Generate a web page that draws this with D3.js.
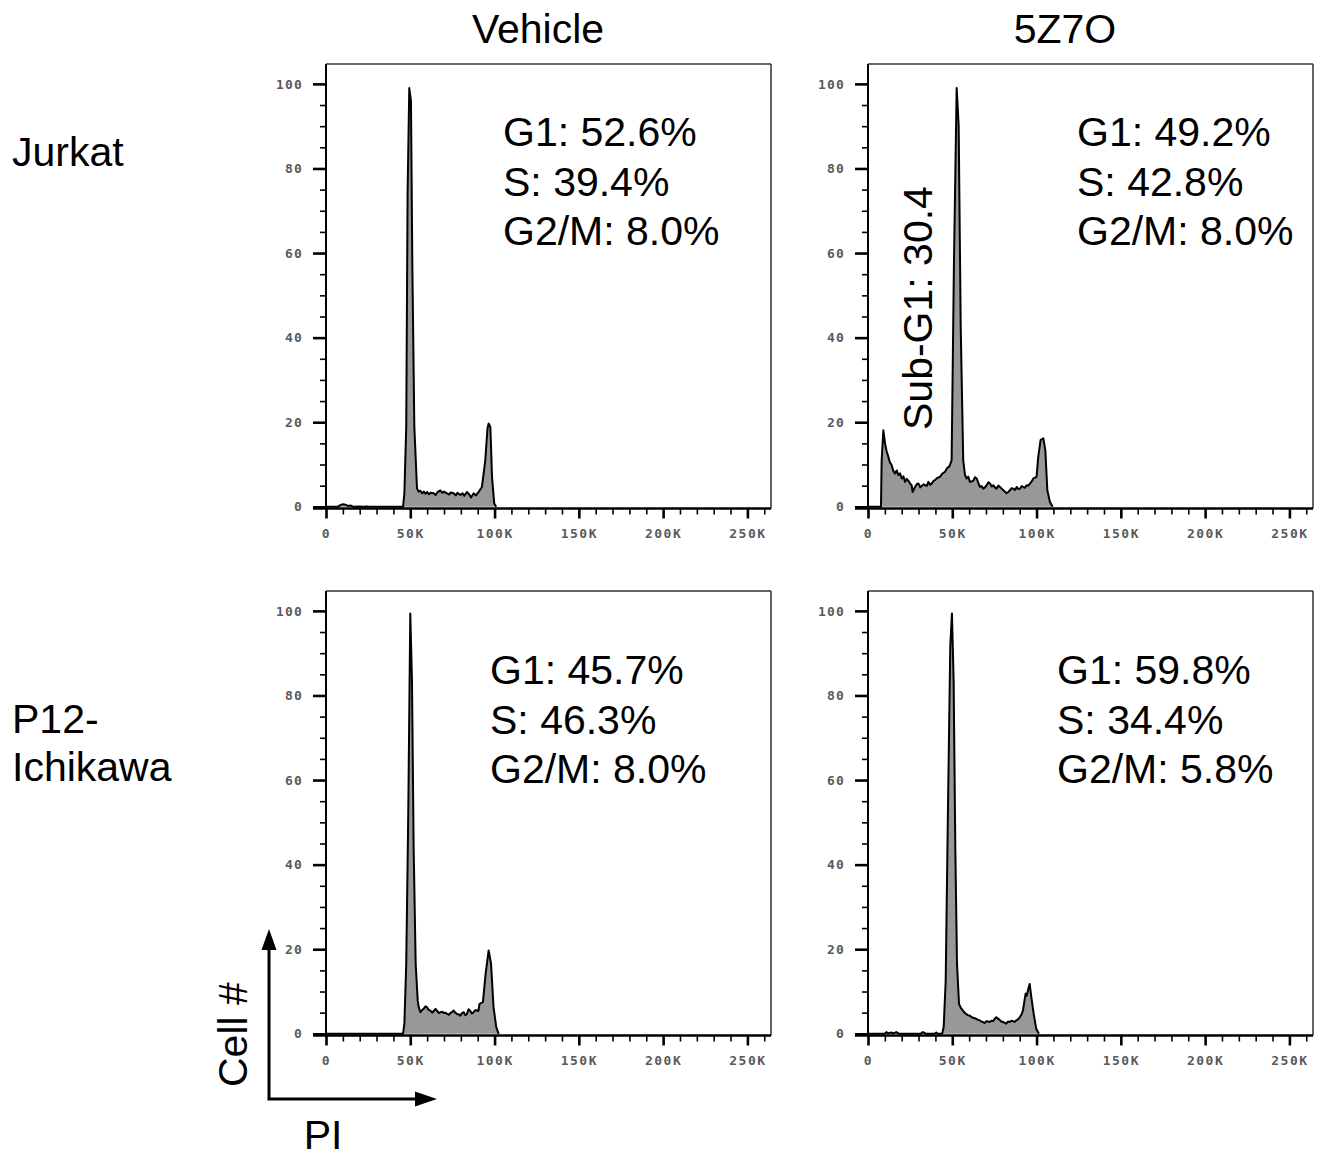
<!DOCTYPE html>
<html>
<head>
<meta charset="utf-8">
<script src="https://cdn.jsdelivr.net/npm/d3@7"></script>
<style>
  body { margin: 0; background: #fff; }
  svg { display: block; }
</style>
</head>
<body>
<div id="chart"></div>
<script>
// PI in thousands (K), cell count (% of max)
const jurkatVehicle = [
  [0,0],[7,0],[8.5,0.4],[10,0.6],[11.5,0.5],[13,0.2],[14.5,0.3],[16.4,0],[20,0.1],[22,0],[24,0.1],[26,0],
  [45.7,0],[46.5,3.2],[47.6,18.9],[48.4,74],[49.4,99],[50.4,96],[51.2,58],[52.4,19],[54,4.3],[55,3.6],
  [56,3.8],[57,3.2],[58,3.6],[59,3.1],[60,3.5],[61,3.0],[62,3.3],[63.9,3.2],[65,2.8],[66,3.4],[67.8,3.9],
  [69,3.3],[70,3.6],[71.8,3.2],[73,2.9],[74,3.4],[75.7,3.2],[77,2.7],[78,3.3],[79.7,2.8],[81,3.2],[82,2.6],
  [83.6,3.5],[85,2.9],[86,2.2],[87.6,3.2],[89,2.7],[90.5,3.5],[92.5,4.7],[94.5,11],[95.8,18.5],[96.5,19.7],
  [97.5,18.9],[98.5,7],[99.8,0.8],[101,0]
];
const jurkat5Z7O = [
  [0,0],[7.1,0],[7.7,0],[8.1,11],[9.1,18.1],[10.1,15],[11,13.2],[12.1,11.8],[13,10.5],[14,9.9],[15,8.5],
  [16,7.9],[17,8.6],[18,7.5],[19,7.9],[20,6.7],[21,7.2],[22,5.9],[23,6.6],[23.9,6.2],[25,5.5],[25.9,5.1],
  [26.5,3.5],[27.9,4.7],[29,5.4],[29.9,5.5],[31,4.6],[31.8,4.9],[33,5.3],[33.8,5.1],[35,5.0],[35.8,5.9],
  [37,5.2],[37.8,5.5],[39,6.2],[39.7,6.3],[41,6.8],[42.7,7.1],[44,7.8],[45.7,8.3],[47,9.2],[48.2,9.5],
  [49.6,11],[51,58],[52.6,99],[53.8,90],[55,42.6],[56.5,11],[57.5,7.6],[58.5,6.7],[59.5,7.1],[60.5,5.9],
  [61.5,6.0],[62.5,6.2],[63.5,7.0],[64.5,6.7],[65.5,5.6],[66.4,4.7],[67.4,4.9],[68.4,4.3],[69.4,4.6],
  [70.4,5.1],[71.4,5.8],[72.4,5.5],[73.4,4.8],[74.3,5.1],[75.3,4.6],[76.3,4.3],[77.3,5.0],[78.3,4.7],
  [79.3,4.3],[80.3,3.9],[81.2,3.6],[82.2,3.2],[83.2,3.5],[84.2,3.9],[85.2,4.4],[86.2,4.3],[87.2,4.0],
  [88.2,4.7],[89.2,4.2],[90.2,4.3],[91.2,4.9],[92.1,4.7],[93.1,4.5],[94.1,5.1],[95.1,5.0],[96.1,5.5],
  [97.1,6.0],[98.1,6.7],[99.1,6.9],[100,7.1],[101,11.8],[102.4,15.8],[104,16.2],[105.2,13.4],[106.4,3.9],
  [107.9,1.2],[109.5,0]
];
const p12Vehicle = [
  [0,0],[45.7,0],[46.5,2.4],[47.6,16.6],[48.8,52],[50,99.4],[51,83.6],[52,44],[53.2,16.6],[54.4,7.9],
  [55,6.3],[56,5.1],[57,5.6],[57.9,5.9],[59,6.5],[59.9,6.3],[61,5.6],[61.9,5.5],[63,5.0],[63.9,5.4],
  [65,5.9],[65.8,5.5],[67,4.9],[67.8,5.1],[69,5.2],[69.8,4.9],[71,5.0],[71.8,4.7],[73,4.5],[73.7,4.9],
  [74.7,5.1],[75.7,5.5],[76.7,5.0],[77.7,4.7],[78.7,4.6],[79.7,4.3],[80.7,4.9],[81.7,5.1],[82.7,4.4],
  [83.6,4.7],[84.6,5.8],[85.6,5.4],[86.6,4.8],[87.6,5.1],[88.6,5.6],[89.6,5.5],[90.4,5.4],[91.1,7.1],
  [93.1,7.5],[94.7,14.2],[96.5,19.7],[97.9,16.6],[99.4,6.3],[101,1.6],[102.4,0]
];
const p125Z7O = [
  [0,0],[9.9,0],[10.9,0.4],[12,0.1],[13.8,0.3],[15,0.1],[16.8,0.4],[18,0.1],[20.8,0],[31,0],[32.6,0.4],
  [34.6,0],[39.5,0],[40.5,0.3],[41.5,0],[44,0],[44.9,1.6],[46.1,12.6],[47.4,52],[48.8,91.5],[49.8,99.4],
  [50.8,83.6],[51.8,44],[52.8,16.6],[54,7.1],[55,6.2],[56.3,5.5],[57.3,5.0],[58.3,4.7],[59.3,4.4],
  [60.3,4.3],[61.3,4.0],[62.3,3.8],[63.3,3.7],[64.3,3.5],[65.3,3.3],[66.2,3.2],[67.2,2.9],[68.2,2.8],
  [69.2,2.5],[70.2,3.0],[71.2,2.9],[72.2,2.8],[73.2,3.1],[74.1,3.0],[75.1,3.5],[76.1,3.9],[77.1,3.6],
  [78.1,3.3],[79.1,2.9],[80.1,2.8],[81.1,2.6],[82,2.4],[83,2.9],[84,2.8],[85,3.1],[86,3.0],[87,2.8],
  [88,3.2],[89,3.4],[90,3.9],[91,4.5],[91.9,5.5],[92.7,7.5],[93.5,9.5],[94.2,9.0],[94.9,10.3],[95.5,11.2],
  [95.9,11.8],[96.4,10.2],[96.9,8.7],[98.3,4.7],[99.8,1.2],[101.4,0]
];

const columnTitles = ["Vehicle", "5Z7O"];
const rowTitles = [["Jurkat"], ["P12-", "Ichikawa"]];
const statsJurkatVehicle = ["G1: 52.6%", "S: 39.4%", "G2/M: 8.0%"];
const statsJurkat5Z7O = ["G1: 49.2%", "S: 42.8%", "G2/M: 8.0%"];
const statsP12Vehicle = ["G1: 45.7%", "S: 46.3%", "G2/M: 8.0%"];
const statsP125Z7O = ["G1: 59.8%", "S: 34.4%", "G2/M: 5.8%"];
const subG1Label = "Sub-G1: 30.4";
const xTicks = [0, 50, 100, 150, 200, 250];
const xMinor = d3.range(0, 261, 10).filter(d => d % 50 !== 0);
const yTicks = [0, 20, 40, 60, 80, 100];
const yMinor = d3.range(0, 101, 5).filter(d => d % 20 !== 0);

const W = 1323, H = 1153;
const bigFont = "'Liberation Sans', Arial, Helvetica, sans-serif";
const tickFont = "'DejaVu Sans Mono', monospace";

const svg = d3.select("#chart").append("svg")
  .attr("width", W)
  .attr("height", H)
  .style("background", "#fff");

const pw = 445, ph = 444.5;
const x = d3.scaleLinear().domain([0, 264]).range([0, pw]);
const y = d3.scaleLinear().domain([-0.4, 104.7]).range([ph, 0]);

const panels = [
  { data: jurkatVehicle, stats: statsJurkatVehicle, left: 326, top: 64, sx: 177, sy: 82 },
  { data: jurkat5Z7O, stats: statsJurkat5Z7O, left: 868, top: 64, sx: 209, sy: 82, sub: true },
  { data: p12Vehicle, stats: statsP12Vehicle, left: 326, top: 591, sx: 164, sy: 93 },
  { data: p125Z7O, stats: statsP125Z7O, left: 868, top: 591, sx: 189, sy: 93 }
];

const area = d3.area()
  .x(d => x(d[0]))
  .y0(y(0))
  .y1(d => y(d[1]));

const line = d3.line()
  .x(d => x(d[0]))
  .y(d => y(d[1]));

panels.forEach(function(p) {
  const g = svg.append("g").attr("transform", "translate(" + p.left + "," + p.top + ")");

  // frame
  g.append("line").attr("x1", 0).attr("x2", pw).attr("y1", 0).attr("y2", 0)
    .attr("stroke", "#333").attr("stroke-width", 1.5);
  g.append("line").attr("x1", pw).attr("x2", pw).attr("y1", 0).attr("y2", ph)
    .attr("stroke", "#333").attr("stroke-width", 1.5);

  // histogram
  g.append("path").datum(p.data)
    .attr("d", area)
    .attr("fill", "#989898");
  g.append("path").datum(p.data)
    .attr("d", line)
    .attr("fill", "none")
    .attr("stroke", "#000")
    .attr("stroke-width", 2)
    .attr("stroke-linejoin", "round");

  // y axis
  const ya = g.append("g")
    .call(d3.axisLeft(y).tickValues(yTicks).tickSize(13).tickPadding(10));
  ya.select(".domain").attr("stroke-width", 2).attr("d", "M0," + ph + "V0");
  ya.selectAll(".tick line").attr("stroke-width", 2.6);
  ya.selectAll("text")
    .attr("font-family", tickFont).attr("font-size", 13).attr("font-weight", "bold")
    .attr("letter-spacing", 1.2).attr("fill", "#5a5a5a");
  g.append("g")
    .call(d3.axisLeft(y).tickValues(yMinor).tickSize(6).tickFormat(""))
    .call(s => s.select(".domain").remove())
    .selectAll(".tick line").attr("stroke-width", 1.6);

  // x axis
  const xa = g.append("g").attr("transform", "translate(0," + ph + ")")
    .call(d3.axisBottom(x).tickValues(xTicks).tickSize(10).tickPadding(10)
      .tickFormat(d => d === 0 ? "0" : d + "K"));
  xa.select(".domain").attr("stroke-width", 2.5).attr("d", "M-13,0H" + pw);
  xa.selectAll(".tick line").attr("stroke-width", 2.6);
  xa.selectAll("text")
    .attr("font-family", tickFont).attr("font-size", 13).attr("font-weight", "bold")
    .attr("letter-spacing", 1.5).attr("fill", "#5a5a5a");
  g.append("g").attr("transform", "translate(0," + ph + ")")
    .call(d3.axisBottom(x).tickValues(xMinor).tickSize(6).tickFormat(""))
    .call(s => s.select(".domain").remove())
    .selectAll(".tick line").attr("stroke-width", 1.6);

  // phase percentages
  const st = g.append("text")
    .attr("font-family", bigFont).attr("font-size", 41).attr("fill", "#000");
  st.selectAll("tspan").data(p.stats).enter().append("tspan")
    .attr("x", p.sx)
    .attr("y", (d, i) => p.sy + i * 49.5)
    .text(d => d);

  if (p.sub) {
    g.append("text")
      .attr("transform", "translate(64,366) rotate(-90)")
      .attr("font-family", bigFont).attr("font-size", 41)
      .text(subG1Label);
  }
});

// column titles
svg.selectAll(".coltitle").data(columnTitles).enter().append("text")
  .attr("class", "coltitle")
  .attr("x", (d, i) => [538, 1065][i])
  .attr("y", 43)
  .attr("text-anchor", "middle")
  .attr("font-family", bigFont).attr("font-size", 41)
  .text(d => d);

// row titles
rowTitles.forEach(function(lines, i) {
  const t = svg.append("text")
    .attr("font-family", bigFont).attr("font-size", 41);
  t.selectAll("tspan").data(lines).enter().append("tspan")
    .attr("x", 12)
    .attr("y", (d, j) => [166, 733][i] + j * 48)
    .text(d => d);
});

// Cell # / PI arrows
const ax = 269, ay = 1099;
svg.append("path")
  .attr("d", "M" + ax + "," + ay + "V946M" + (ax - 1.5) + "," + ay + "H420")
  .attr("stroke", "#000").attr("stroke-width", 3).attr("fill", "none");
svg.append("path")
  .attr("d", "M" + ax + ",929L" + (ax - 7.5) + ",950L" + (ax + 7.5) + ",950Z")
  .attr("fill", "#000");
svg.append("path")
  .attr("d", "M437," + ay + "L415," + (ay - 7.5) + "L415," + (ay + 7.5) + "Z")
  .attr("fill", "#000");

svg.append("text")
  .attr("transform", "translate(247,1087) rotate(-90)")
  .attr("font-family", bigFont).attr("font-size", 41)
  .text("Cell #");
svg.append("text")
  .attr("x", 323).attr("y", 1149)
  .attr("text-anchor", "middle")
  .attr("font-family", bigFont).attr("font-size", 41)
  .text("PI");
</script>
</body>
</html>
